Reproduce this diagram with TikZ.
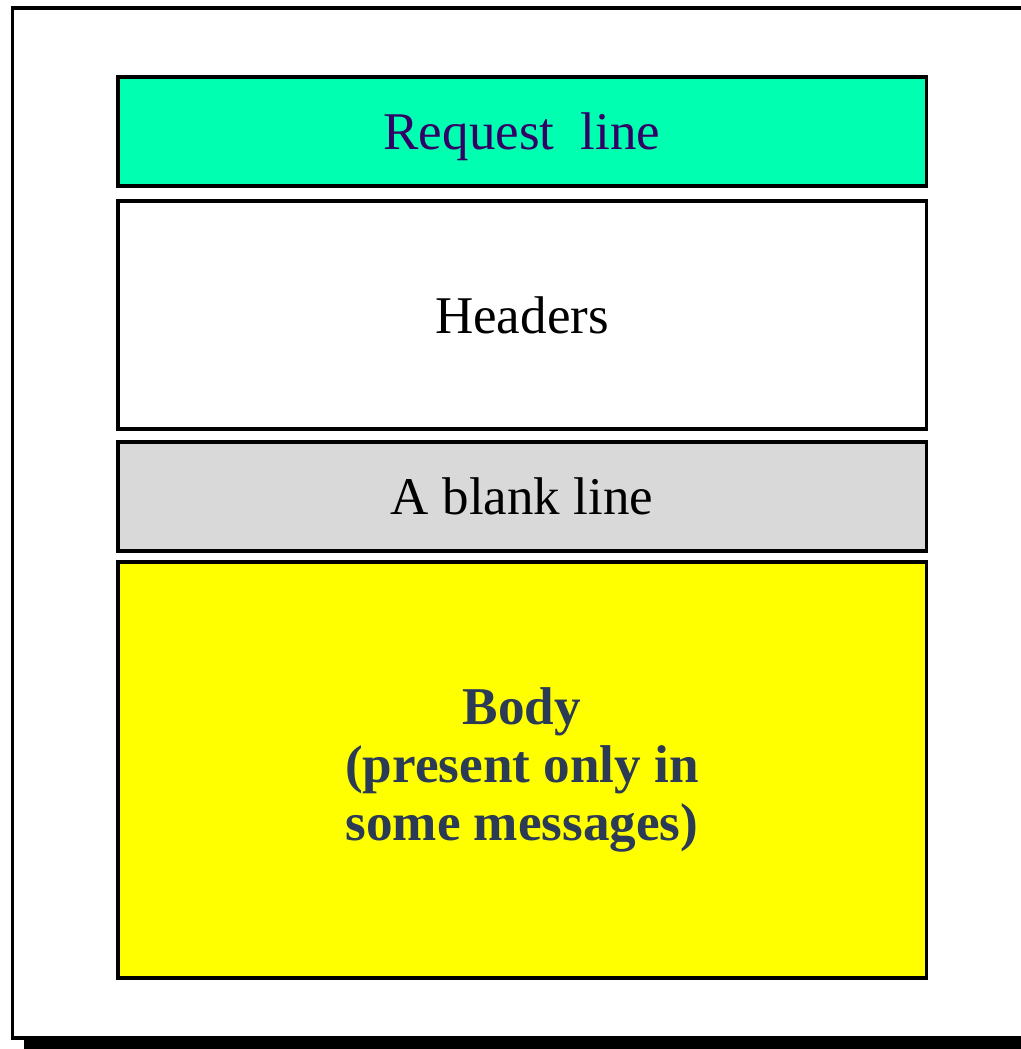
\documentclass[tikz,border=0pt]{standalone}
\usepackage{fontspec}
\setmainfont{Liberation Serif}
\usetikzlibrary{positioning}
\definecolor{reqgreen}{RGB}{0,255,176}
\definecolor{reqtext}{RGB}{51,0,102}
\definecolor{blankgray}{RGB}{217,217,217}
\definecolor{bodyyellow}{RGB}{255,255,0}
\definecolor{bodytext}{RGB}{43,58,85}
\tikzset{
  part/.style = {draw=black, line width=2.3pt, minimum width=20.2cm, align=center, inner sep=0pt, font=\fontsize{37.7}{41}\selectfont},
  reqpart/.style = {part, fill=reqgreen, text=reqtext, minimum height=2.725cm, text depth=0pt},
  hdrpart/.style = {part, fill=white, minimum height=5.7cm},
  blankpart/.style = {part, fill=blankgray, minimum height=2.725cm},
  bodypart/.style = {part, fill=bodyyellow, text=bodytext, minimum height=10.4cm, font=\fontsize{37.8}{41.5}\selectfont\bfseries}
}
\begin{document}
\begin{tikzpicture}[x=0.025cm, y=-0.025cm]
	\useasboundingbox (0,0) rectangle (1020,1049);
	% frame and its shadow
	\fill[black] (24,1039) rectangle (1040,1049);
	\draw[line width=2.3pt] (12.5,8) rectangle (1040,1038);
	% message parts
	\node [reqpart] (req) at (522,131.5) {Request\ \ line};
	\node [hdrpart] (hdr) at (522,315) {Headers};
	\node [blankpart] (blank) at (522,496.5) {A blank line};
	\node [bodypart] (body) at (522,770) {Body\\(present only in\\ some messages)};
\end{tikzpicture}
\end{document}
